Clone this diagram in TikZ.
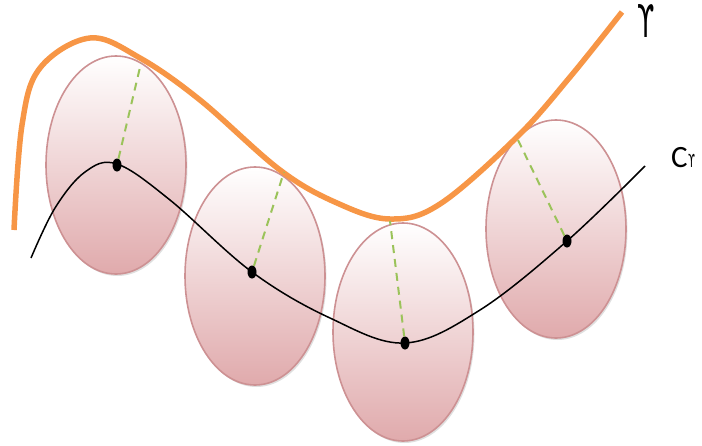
\documentclass[tikz,border=0pt]{standalone}
\usepackage{fontspec}
\setmainfont{Carlito}
\newfontfamily\djv{DejaVu Sans}
\usetikzlibrary{shapes.geometric,shadows}
\definecolor{orangeC}{RGB}{247,150,70}
\definecolor{pinkB}{RGB}{224,170,172}
\definecolor{pinkE}{RGB}{205,145,147}
\definecolor{dashG}{RGB}{155,195,90}
\tikzset{
  disc/.style={ellipse, draw=pinkE, line width=1.6pt, top color=white, bottom color=pinkB,
     minimum width=140pt, minimum height=218pt, inner sep=0pt,
     drop shadow={opacity=0.25, shadow xshift=1.5pt, shadow yshift=-2pt}},
  pt/.style={ellipse, fill=black, minimum width=9pt, minimum height=13pt, inner sep=0pt},
  perp/.style={dashG, line width=2pt, dash pattern=on 8pt off 6pt},
}
\begin{document}
\begin{tikzpicture}[x=1pt,y=-1pt]
\useasboundingbox (0,0) rectangle (702,445);
\node[disc] (e1) at (116,165) {};
\node[disc] (e2) at (255,276) {};
\node[disc] (e3) at (403,332) {};
\node[disc] (e4) at (556,229) {};
% orange curve gamma
\draw[orangeC, line width=5.5pt, line cap=butt]
  plot[smooth, tension=0.6] coordinates {(14,230) (22,125) (40,68) (90,38) (140,58) (200,100) (280,170) (337,203) (390,219) (440,204) (517,137) (570,77) (622,12)};
% black curve C_gamma
\draw[black, line width=1.5pt]
  plot[smooth, tension=0.6] coordinates {(31,258) (55,208) (85,172) (117,164) (170,200) (252,272) (330,318) (405,343) (480,310) (567,241) (645,166)};
\node[pt] (p1) at (117,165) {};
\node[pt] (p2) at (252,272) {};
\node[pt] (p3) at (405,343) {};
\node[pt] (p4) at (567,241) {};
\coordinate (q1) at (141,63);
\coordinate (q2) at (284,172);
\coordinate (q3) at (390,221);
\coordinate (q4) at (517,138);
\draw[perp] (p1) -- (q1);
\draw[perp] (p2) -- (q2);
\draw[perp] (p3) -- (q3);
\draw[perp] (p4) -- (q4);
\node[font=\djv\fontsize{45}{48}\selectfont, xscale=0.55, anchor=base, inner sep=0pt] (lg) at (646.5,37) {ϒ};
\node[font=\fontsize{31}{34}\selectfont, anchor=base west, inner sep=0pt] (lc) at (671,167) {C};
\node[font=\djv\fontsize{18}{20}\selectfont, xscale=0.55, anchor=base west, inner sep=0pt] (ls) at (lc.base east) {ϒ};
\end{tikzpicture}
\end{document}
